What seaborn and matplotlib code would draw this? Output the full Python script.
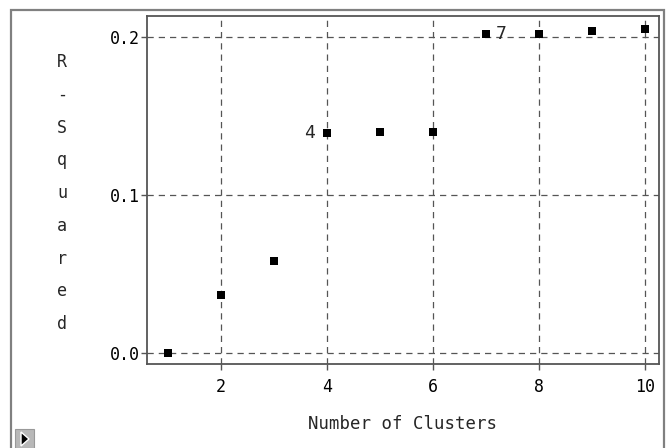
import matplotlib
matplotlib.use("Agg")
import matplotlib.pyplot as plt
import seaborn as sns
import pandas as pd
from matplotlib.patches import Rectangle, Polygon

# Data
clusters = [1, 2, 3, 4, 5, 6, 7, 8, 9, 10]
r_squared = [0.0, 0.037, 0.0585, 0.1393, 0.1402, 0.1402, 0.2017, 0.2017, 0.2040, 0.2052]
x_ticks = [2, 4, 6, 8, 10]
y_ticks = [0.0, 0.1, 0.2]
y_tick_labels = ["0.0", "0.1", "0.2"]
annotated = {4: "4", 7: "7"}

sns.set_style("white")
plt.rcParams['font.family'] = ['DejaVu Sans Mono', 'DejaVu Sans']

df = pd.DataFrame({"clusters": clusters, "rsq": r_squared})

fig = plt.figure(figsize=(6.67, 4.48), dpi=100)
ax = fig.add_axes([147/667, 1-364/448, (659-147)/667, (364-16)/448])

sns.scatterplot(data=df, x="clusters", y="rsq", marker="s", color="black",
                s=26, linewidth=0, ax=ax, zorder=3)

ax.set_xlim(0.604, 10.264)
ax.set_ylim(-0.00664, 0.2133)
ax.set_xticks(x_ticks)
ax.set_xticklabels([str(t) for t in x_ticks])
ax.set_yticks(y_ticks)
ax.set_yticklabels(y_tick_labels)

grid_color = "#555555"
ax.grid(True, color=grid_color, linestyle=(0, (5, 4)), linewidth=0.9)
ax.set_axisbelow(True)

for s in ax.spines.values():
    s.set_color("#555555")
    s.set_linewidth(1.3)

ax.tick_params(axis="both", direction="out", length=4, width=1, color="#555555",
               labelsize=12, labelcolor="black")
ax.tick_params(axis="x", pad=6, bottom=True)
ax.tick_params(axis="y", pad=1, left=True)

ax.set_xlabel("Number of Clusters", fontsize=12.5, labelpad=14)
ax.set_ylabel("\n".join("R-Squared"), fontsize=12, rotation=0,
              linespacing=2.05, va="center", ha="center")
ax.yaxis.set_label_coords(-0.166, 0.491)

# point annotations
for k, lab in annotated.items():
    i = clusters.index(k)
    if k == 4:
        ax.annotate(lab, (clusters[i], r_squared[i]), xytext=(-9, 0),
                    textcoords="offset points", ha="right", va="center", fontsize=13)
    else:
        ax.annotate(lab, (clusters[i], r_squared[i]), xytext=(7, 0),
                    textcoords="offset points", ha="left", va="center", fontsize=13)

# outer frame
fig.patches.append(Rectangle((11/667, -0.05), (664-11)/667, 1-10/448+0.05,
                             transform=fig.transFigure, fill=False,
                             edgecolor="#808080", linewidth=1.6))
# small icon bottom-left
fig.patches.append(Rectangle((15/667, 0), 19/667, 19/448, transform=fig.transFigure,
                             facecolor="#b8b8b8", edgecolor="#999999", linewidth=0.8))
fig.patches.append(Polygon([(21/667, 2/448), (21/667, 16/448), (29/667, 9/448)],
                           closed=True, transform=fig.transFigure, facecolor="black"))

fig.savefig("out.png", dpi=100)
